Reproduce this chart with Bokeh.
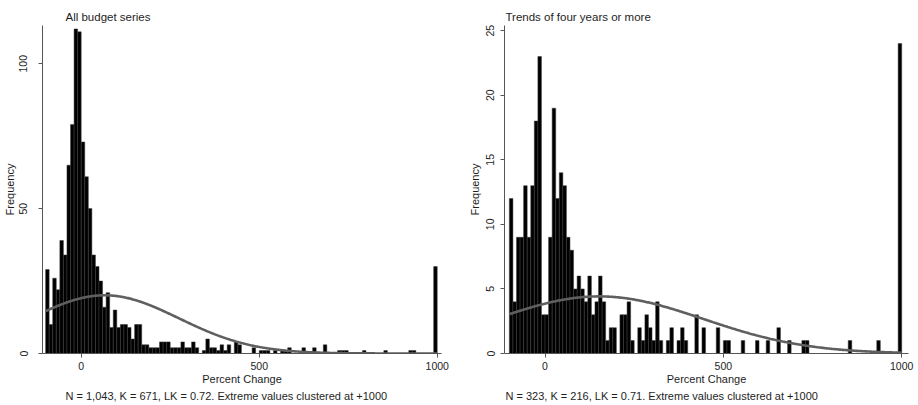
import numpy as np
from bokeh.plotting import figure
from bokeh.models import Range1d, FixedTicker, Title
from bokeh.layouts import row
from bokeh.embed import file_html
from bokeh.resources import INLINE

# ---------------- data ----------------
bin_start = -100
bin_width = 10

all_counts = [
    29, 10, 26, 22, 39, 34, 65, 79, 112, 111,    # -100 .. -10
    73, 61, 50, 34, 30, 25, 16, 21, 9, 15,       # 0 .. 90
    9, 10, 10, 9, 5, 10, 10, 3, 3, 2,            # 100 .. 190
    2, 2, 4, 4, 4, 2, 2, 2, 4, 2,                # 200 .. 290
    2, 4, 2, 0, 1, 5, 2, 2, 1, 3,                # 300 .. 390
    1, 3, 0, 4, 3, 0, 0, 0, 2, 0,                # 400 .. 490
    1, 1, 1, 0, 1, 0, 1, 1, 2, 0,                # 500 .. 590
    0, 0, 2, 0, 0, 2, 0, 0, 3, 0,                # 600 .. 690
    0, 0, 1, 1, 1, 0, 0, 0, 0, 1,                # 700 .. 790
    0, 0, 0, 0, 0, 1, 0, 0, 0, 0,                # 800 .. 890
    0, 0, 1, 1, 0, 0, 0, 0, 0, 30,               # 900 .. 990
]

trend_counts = [
    12, 4, 9, 9, 13, 9, 13, 18, 23, 3,           # -100 .. -10
    3, 9, 19, 12, 14, 13, 9, 8, 5, 6,            # 0 .. 90
    5, 4, 6, 3, 4, 6, 4, 1, 2, 2,                # 100 .. 190
    0, 3, 3, 4, 1, 0, 2, 1, 3, 2,                # 200 .. 290
    1, 4, 1, 0, 1, 2, 0, 1, 2, 1,                # 300 .. 390
    0, 0, 3, 0, 2, 0, 0, 0, 2, 0,                # 400 .. 490
    1, 1, 0, 0, 0, 1, 0, 0, 0, 1,                # 500 .. 590
    0, 0, 1, 0, 0, 2, 0, 0, 1, 0,                # 600 .. 690
    0, 0, 1, 1, 0, 0, 0, 0, 0, 0,                # 700 .. 790
    0, 0, 0, 0, 0, 1, 0, 0, 0, 0,                # 800 .. 890
    0, 0, 0, 1, 0, 0, 0, 0, 0, 24,               # 900 .. 990
]

titles = ["All budget series", "Trends of four years or more"]
notes = [
    "N = 1,043, K = 671, LK = 0.72. Extreme values clustered at +1000",
    "N = 323, K = 216, LK = 0.71. Extreme values clustered at +1000",
]
x_label = "Percent Change"
y_label = "Frequency"
x_ticks = [0, 500, 1000]
y_ticks_all = [0, 50, 100]
y_ticks_trend = [0, 5, 10, 15, 20, 25]

FONT = "Liberation Sans"
TXT = "#1e1e1e"
AX = "#555555"
HEIGHT = 405


def panel(counts, title, note, yticks, width, border_left, border_right,
          border_top, frame_h, x_start, x_end, y_end, ylab_standoff,
          yaxis_label_standoff, text_offset):
    counts = np.array(counts, dtype=float)
    n_bins = len(counts)
    edges = bin_start + bin_width * np.arange(n_bins + 1)
    p = figure(width=width, height=HEIGHT, output_backend="svg",
               toolbar_location=None, title=title,
               x_range=Range1d(x_start, x_end), y_range=Range1d(0, y_end),
               min_border_left=border_left, min_border_right=border_right,
               min_border_top=border_top,
               min_border_bottom=HEIGHT - border_top - frame_h)
    p.outline_line_color = None
    p.grid.visible = False
    p.background_fill_color = "white"
    p.border_fill_color = "white"

    p.title.align = "left"
    p.title.offset = text_offset
    p.title.standoff = 6
    p.title.text_font = FONT
    p.title.text_font_size = "11.5px"
    p.title.text_font_style = "normal"
    p.title.text_color = TXT

    p.quad(left=edges[:-1], right=edges[1:], bottom=0, top=counts,
           fill_color="black", line_color="#3c3c3c", line_width=0.5)

    # overlaid normal density scaled to frequencies
    mids = (edges[:-1] + edges[1:]) / 2
    N = counts.sum()
    mu = (mids * counts).sum() / N
    sd = np.sqrt(((mids - mu) ** 2 * counts).sum() / N)
    xs = np.linspace(edges[0], edges[-1], 400)
    ys = N * bin_width * np.exp(-0.5 * ((xs - mu) / sd) ** 2) / (sd * np.sqrt(2 * np.pi))
    p.line(xs, ys, line_color="#5f5f5f", line_width=2.6)

    for ax in (p.xaxis[0], p.yaxis[0]):
        ax.axis_line_color = AX
        ax.major_tick_line_color = AX
        ax.major_tick_out = 4
        ax.major_tick_in = 0
        ax.minor_tick_line_color = None
        ax.major_label_text_font = FONT
        ax.major_label_text_font_size = "10.5px"
        ax.major_label_text_color = TXT
        ax.axis_label_text_font = FONT
        ax.axis_label_text_font_size = "11px"
        ax.axis_label_text_font_style = "normal"
        ax.axis_label_text_color = TXT
    p.xaxis[0].ticker = FixedTicker(ticks=x_ticks)
    p.xaxis[0].major_label_standoff = 4
    p.xaxis[0].axis_label = x_label
    p.xaxis[0].axis_label_standoff = 0
    p.yaxis[0].ticker = FixedTicker(ticks=yticks)
    p.yaxis[0].major_label_orientation = "vertical"
    p.yaxis[0].major_label_standoff = ylab_standoff
    p.yaxis[0].axis_label = y_label
    p.yaxis[0].axis_label_standoff = yaxis_label_standoff

    p.add_layout(Title(text=note, align="left", offset=text_offset, standoff=0,
                       text_font=FONT, text_font_size="11px",
                       text_font_style="normal", text_color=TXT), "below")
    return p


p1 = panel(all_counts, titles[0], notes[0], y_ticks_all, width=462,
           border_left=42, border_right=21, border_top=25, frame_h=328,
           x_start=-108.7, x_end=1012, y_end=113.2,
           ylab_standoff=11, yaxis_label_standoff=1, text_offset=23)
p2 = panel(trend_counts, titles[1], notes[1], y_ticks_trend, width=456,
           border_left=42, border_right=10, border_top=24, frame_h=329,
           x_start=-113.6, x_end=1019, y_end=25.4,
           ylab_standoff=6, yaxis_label_standoff=3, text_offset=1)

layout = row(p1, p2)
open("out.html", "w").write(file_html(layout, INLINE))
